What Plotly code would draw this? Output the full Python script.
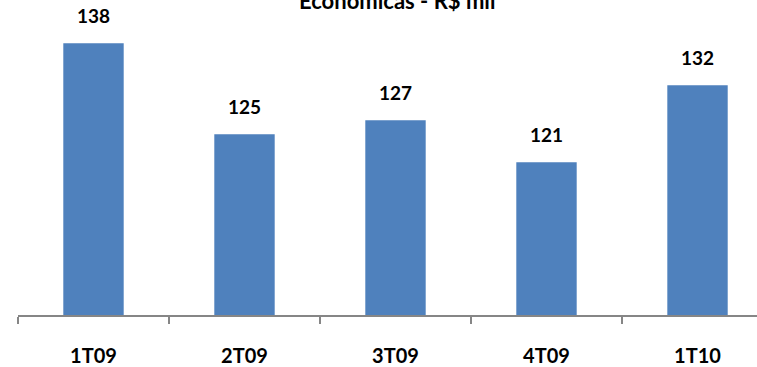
import plotly.graph_objects as go

# Quarterly values (R$ mil)
quarters = ["1T09", "2T09", "3T09", "4T09", "1T10"]
values = [138, 125, 127, 121, 132]

title_text = "Econômicas - R$ mil"

BAR_COLOR = "#4F81BD"
AXIS_COLOR = "#868686"
FONT = "Lato"

fig = go.Figure(
    go.Bar(
        x=quarters,
        y=values,
        marker=dict(color=BAR_COLOR, line=dict(width=0)),
        width=0.40,
        hoverinfo="x+y",
    )
)

# value labels above each bar
for q, v in zip(quarters, values):
    fig.add_annotation(
        x=q, y=v, text=f"<b>{v}</b>", showarrow=False,
        yanchor="bottom", yshift=14,
        font=dict(family=FONT, size=19, color="#000000"),
    )

# chart title (partly above the visible area)
fig.add_annotation(
    xref="paper", yref="paper", x=0.513, y=1.085,
    xanchor="center", yanchor="middle",
    text=f"<b>{title_text}</b>", showarrow=False,
    font=dict(family=FONT, size=22, color="#000000"),
)

fig.update_layout(
    width=757, height=367,
    margin=dict(l=18, r=0, t=25, b=52),
    paper_bgcolor="white", plot_bgcolor="white",
    showlegend=False,
    xaxis=dict(
        type="category",
        range=[-0.5, 4.394],
        showline=True, linecolor=AXIS_COLOR, linewidth=1.5,
        ticks="outside", tickson="boundaries", ticklen=7,
        tickcolor=AXIS_COLOR, tickwidth=1.5,
        ticklabelstandoff=22,
        tickfont=dict(family=FONT, size=20, color="#000000"),
        tickprefix="<b>", ticksuffix="</b>",
        showgrid=False, zeroline=False, fixedrange=True,
    ),
    yaxis=dict(
        range=[99.2, 140.6],
        visible=False, showgrid=False, zeroline=False, fixedrange=True,
    ),
)

fig.write_html("out.html")
